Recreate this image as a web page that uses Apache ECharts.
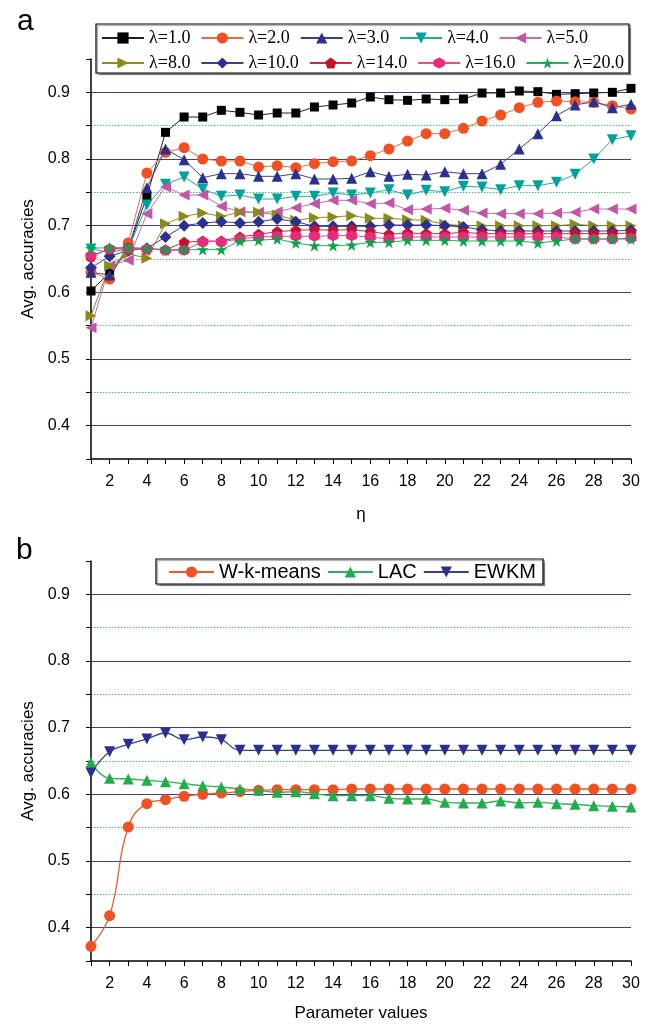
<!DOCTYPE html>
<html>
<head>
<meta charset="utf-8">
<script src="https://cdn.jsdelivr.net/npm/echarts@6/dist/echarts.min.js"></script>
<style>
  html, body { margin: 0; padding: 0; background: #ffffff; }
  #chart { width: 654px; height: 1027px; }
</style>
</head>
<body>
<div id="chart"></div>
<script>
// x positions shared by both panels (η in panel a, parameter value in panel b)
const paramValues = [1, 2, 3, 4, 5, 6, 7, 8, 9, 10, 11, 12, 13, 14, 15,
                     16, 17, 18, 19, 20, 21, 22, 23, 24, 25, 26, 27, 28, 29, 30];

// y-axis tick labels (solid grid lines sit on these)
const yTickLabels = ['0.4', '0.5', '0.6', '0.7', '0.8', '0.9'];

// Panel a: average accuracy for each λ as η varies
const lambdaNames = ['λ=1.0', 'λ=2.0', 'λ=3.0', 'λ=4.0', 'λ=5.0',
                     'λ=8.0', 'λ=10.0', 'λ=14.0', 'λ=16.0', 'λ=20.0'];
const lambda1  = [0.602, 0.630, 0.665, 0.744, 0.840, 0.863, 0.863, 0.873, 0.870, 0.866, 0.869, 0.869, 0.878, 0.881, 0.884,
                  0.893, 0.889, 0.888, 0.890, 0.889, 0.890, 0.899, 0.899, 0.902, 0.901, 0.897, 0.898, 0.899, 0.900, 0.906];
const lambda2  = [0.630, 0.620, 0.674, 0.779, 0.810, 0.817, 0.800, 0.797, 0.797, 0.788, 0.790, 0.787, 0.793, 0.796, 0.797,
                  0.805, 0.815, 0.827, 0.838, 0.838, 0.846, 0.857, 0.866, 0.877, 0.885, 0.887, 0.886, 0.885, 0.880, 0.875];
const lambda3  = [0.630, 0.626, 0.665, 0.757, 0.815, 0.799, 0.772, 0.778, 0.778, 0.774, 0.774, 0.778, 0.770, 0.770, 0.771,
                  0.781, 0.774, 0.777, 0.776, 0.781, 0.778, 0.778, 0.792, 0.815, 0.838, 0.865, 0.881, 0.886, 0.877, 0.882];
const lambda4  = [0.665, 0.660, 0.665, 0.731, 0.762, 0.773, 0.755, 0.744, 0.746, 0.740, 0.740, 0.744, 0.744, 0.749, 0.746,
                  0.749, 0.754, 0.746, 0.753, 0.751, 0.759, 0.758, 0.754, 0.760, 0.760, 0.765, 0.777, 0.800, 0.829, 0.835];
const lambda5  = [0.547, 0.640, 0.648, 0.718, 0.758, 0.746, 0.746, 0.729, 0.721, 0.720, 0.721, 0.727, 0.733, 0.738, 0.738,
                  0.733, 0.734, 0.724, 0.725, 0.726, 0.723, 0.719, 0.718, 0.718, 0.718, 0.719, 0.720, 0.725, 0.725, 0.725];
const lambda8  = [0.565, 0.640, 0.658, 0.651, 0.703, 0.714, 0.719, 0.714, 0.720, 0.720, 0.716, 0.708, 0.712, 0.713, 0.715,
                  0.711, 0.711, 0.709, 0.708, 0.702, 0.700, 0.700, 0.700, 0.700, 0.700, 0.700, 0.702, 0.700, 0.700, 0.700];
const lambda10 = [0.637, 0.654, 0.663, 0.666, 0.683, 0.700, 0.704, 0.706, 0.704, 0.706, 0.710, 0.706, 0.699, 0.699, 0.699,
                  0.699, 0.701, 0.701, 0.701, 0.700, 0.698, 0.694, 0.692, 0.692, 0.692, 0.692, 0.692, 0.692, 0.692, 0.693];
const lambda14 = [0.654, 0.665, 0.667, 0.665, 0.664, 0.675, 0.677, 0.677, 0.683, 0.687, 0.691, 0.693, 0.694, 0.693, 0.694,
                  0.691, 0.687, 0.689, 0.688, 0.688, 0.690, 0.688, 0.688, 0.688, 0.688, 0.688, 0.688, 0.688, 0.688, 0.689];
const lambda16 = [0.655, 0.665, 0.665, 0.665, 0.663, 0.663, 0.676, 0.676, 0.680, 0.683, 0.684, 0.684, 0.684, 0.685, 0.685,
                  0.683, 0.680, 0.683, 0.683, 0.683, 0.683, 0.683, 0.683, 0.683, 0.683, 0.683, 0.680, 0.680, 0.680, 0.681];
const lambda20 = [0.666, 0.667, 0.667, 0.666, 0.664, 0.664, 0.664, 0.664, 0.677, 0.678, 0.680, 0.674, 0.670, 0.670, 0.671,
                  0.675, 0.675, 0.678, 0.678, 0.678, 0.677, 0.677, 0.677, 0.677, 0.674, 0.677, 0.680, 0.680, 0.680, 0.680];

// Panel b: average accuracy of the three algorithms over their parameter values
const methodNames = ['W-k-means', 'LAC', 'EWKM'];
const wkmeans = [0.372, 0.418, 0.551, 0.586, 0.592, 0.597, 0.600, 0.602, 0.604, 0.606, 0.607, 0.607, 0.607, 0.607, 0.608,
                 0.608, 0.608, 0.608, 0.608, 0.608, 0.608, 0.608, 0.608, 0.608, 0.608, 0.608, 0.608, 0.608, 0.608, 0.608];
const lac     = [0.648, 0.624, 0.623, 0.621, 0.619, 0.616, 0.613, 0.611, 0.608, 0.606, 0.603, 0.604, 0.601, 0.598, 0.598,
                 0.598, 0.594, 0.593, 0.593, 0.588, 0.587, 0.587, 0.590, 0.587, 0.588, 0.586, 0.585, 0.583, 0.582, 0.581];
const ewkm    = [0.632, 0.664, 0.675, 0.683, 0.692, 0.682, 0.686, 0.682, 0.666, 0.666, 0.666, 0.666, 0.666, 0.666, 0.666,
                 0.666, 0.666, 0.666, 0.666, 0.666, 0.666, 0.666, 0.666, 0.666, 0.666, 0.666, 0.666, 0.666, 0.666, 0.666];

// ---- styling ----
const SANS = '"Liberation Sans", Arial, sans-serif';
const SERIF = '"Liberation Serif", "Times New Roman", serif';
const GRID_SOLID = '#3a3e98';
const GRID_DOT = '#45c46f';
const TRANSPARENT = 'rgba(0,0,0,0)';

const PENTAGON = 'path://M50,0 L97.6,34.5 L79.4,90.5 L20.6,90.5 L2.4,34.5 Z';
const STAR = 'path://M50,0 L61.2,34.5 L97.6,34.5 L68.2,55.9 L79.4,90.5 L50,69.1 L20.6,90.5 L31.8,55.9 L2.4,34.5 L38.8,34.5 Z';
const HEXAGON = 'path://M50,0 L93.3,25 L93.3,75 L50,100 L6.7,75 L6.7,25 Z';

const lambdaStyles = [
  { data: lambda1,  color: '#000000', line: '#222222', symbol: 'rect',     size: 9,  rotate: 0 },
  { data: lambda2,  color: '#f05022', line: '#f26a3e', symbol: 'circle',   size: 11, rotate: 0 },
  { data: lambda3,  color: '#2b3090', line: '#3a3e98', symbol: 'triangle', size: 11, rotate: 0 },
  { data: lambda4,  color: '#00a29a', line: '#22aaa2', symbol: 'triangle', size: 11, rotate: 180 },
  { data: lambda5,  color: '#c455a6', line: '#cc6bb2', symbol: 'triangle', size: 11, rotate: 90 },
  { data: lambda8,  color: '#8b8a17', line: '#8f8e25', symbol: 'triangle', size: 11, rotate: -90 },
  { data: lambda10, color: '#2b3090', line: '#3a3e98', symbol: 'diamond',  size: 12, rotate: 0 },
  { data: lambda14, color: '#c0142e', line: '#cc2a3e', symbol: PENTAGON,   size: 11, rotate: 0 },
  { data: lambda16, color: '#ec2a7c', line: '#ee4b8c', symbol: HEXAGON,    size: 11, rotate: 0 },
  { data: lambda20, color: '#0aa54a', line: '#22b05a', symbol: STAR,       size: 12, rotate: 0 }
];

const methodStyles = [
  { data: wkmeans, color: '#f05022', line: '#f05a2e', symbol: 'circle',   size: 11, rotate: 0 },
  { data: lac,     color: '#20ad4b', line: '#2db356', symbol: 'triangle', size: 11, rotate: 0 },
  { data: ewkm,    color: '#2b3090', line: '#3a3e98', symbol: 'triangle', size: 11, rotate: 180 }
];

// y ticks every 0.05 from 0.35 to 0.95; solid lines on the tenths, dotted on the odd twentieths
const yMin = 0.35, yMax = 0.95, yStep = 0.05;
const tickCount = Math.round((yMax - yMin) / yStep) + 1;
const solidColors = [], dotColors = [];
for (let i = 0; i < tickCount; i++) {
  solidColors.push(i % 2 === 1 ? GRID_SOLID : TRANSPARENT);
  dotColors.push(i % 2 === 0 && i > 0 && i < tickCount - 1 ? GRID_DOT : TRANSPARENT);
}

function yLabel(v) {
  const s = v.toFixed(1);
  return Math.abs(v - parseFloat(s)) < 1e-6 && yTickLabels.indexOf(s) >= 0 ? s : '';
}

function makeXAxis(gridIndex, name, nameGap) {
  return {
    type: 'value', gridIndex: gridIndex, min: 1, max: 30, interval: 1,
    name: name, nameLocation: 'middle', nameGap: nameGap,
    nameTextStyle: { fontFamily: SANS, fontSize: 17, color: '#000' },
    axisLine: { show: true, lineStyle: { color: '#000', width: 1.5 } },
    axisTick: { show: true, inside: false, length: 5, lineStyle: { color: '#000', width: 1 } },
    axisLabel: { fontFamily: SANS, fontSize: 16, color: '#000', margin: 15,
                 formatter: v => (v % 2 === 0 ? String(v) : '') },
    splitLine: { show: false }
  };
}

function makeYAxes(gridIndex) {
  return [
    {
      type: 'value', gridIndex: gridIndex, min: yMin, max: yMax, interval: yStep,
      name: 'Avg. accuracies', nameLocation: 'middle', nameGap: 52,
      nameTextStyle: { fontFamily: SANS, fontSize: 17, color: '#000' },
      axisLine: { show: true, lineStyle: { color: '#000', width: 1.5 } },
      axisTick: { show: true, inside: false, length: 5, lineStyle: { color: '#000', width: 1 } },
      axisLabel: { fontFamily: SANS, fontSize: 16, color: '#000', margin: 21, formatter: yLabel },
      splitLine: { show: true, lineStyle: { color: solidColors, width: 1, type: 'solid' } }
    },
    {
      type: 'value', gridIndex: gridIndex, min: yMin, max: yMax, interval: yStep, position: 'left',
      axisLine: { show: false }, axisTick: { show: false }, axisLabel: { show: false },
      splitLine: { show: true, lineStyle: { color: dotColors, width: 1, type: [1.5, 1.5] } }
    }
  ];
}

function makeSeries(name, st, axisIdx, smooth, lineWidth) {
  return {
    name: name, type: 'line',
    xAxisIndex: axisIdx, yAxisIndex: axisIdx * 2,
    data: paramValues.map((x, i) => [x, st.data[i]]),
    smooth: smooth,
    symbol: st.symbol, symbolSize: st.size, symbolRotate: st.rotate,
    showAllSymbol: true,
    lineStyle: { color: st.line, width: lineWidth },
    itemStyle: { color: st.color, borderWidth: 0 },
    emphasis: { disabled: true },
    animation: false
  };
}

const series = [];
lambdaNames.forEach((n, i) => series.push(makeSeries(n, lambdaStyles[i], 0, false, 1)));
methodNames.forEach((n, i) => series.push(makeSeries(n, methodStyles[i], 1, 0.45, 1.3)));

const legendCommon = {
  orient: 'horizontal', padding: 0, itemWidth: 42, itemHeight: 14, itemGap: 10,
  selectedMode: false,
  textStyle: { fontFamily: SERIF, fontSize: 18, color: '#000', padding: [0, 0, 0, 0] }
};

const option = {
  animation: false,
  backgroundColor: '#ffffff',
  title: [
    { text: 'a', left: 12, top: 2, textStyle: { fontFamily: SANS, fontSize: 30, fontWeight: 'normal', color: '#000' } },
    { text: 'b', left: 11, top: 531, textStyle: { fontFamily: SANS, fontSize: 30, fontWeight: 'normal', color: '#000' } }
  ],
  grid: [
    { left: 91, width: 540, top: 59, height: 400, containLabel: false },
    { left: 91, width: 540, top: 561, height: 400, containLabel: false }
  ],
  xAxis: [makeXAxis(0, 'η', 47), makeXAxis(1, 'Parameter values', 44)],
  yAxis: makeYAxes(0).concat(makeYAxes(1)),
  legend: [
    Object.assign({}, legendCommon, { data: lambdaNames.slice(0, 5), left: 101, top: 29 }),
    Object.assign({}, legendCommon, { data: lambdaNames.slice(5), left: 101, top: 54 }),
    Object.assign({}, legendCommon, {
      data: methodNames, left: 168, top: 562, itemWidth: 45, itemGap: 6,
      textStyle: { fontFamily: SANS, fontSize: 20, color: '#000' }
    })
  ],
  graphic: [
    { type: 'rect', z: 1, shape: { x: 96, y: 24, width: 533, height: 49 },
      style: { fill: '#ffffff', stroke: '#000', lineWidth: 1.2,
               shadowColor: 'rgba(0,0,0,0.35)', shadowOffsetX: 1.5, shadowOffsetY: 1.5, shadowBlur: 1 } },
    { type: 'rect', z: 1, shape: { x: 156, y: 559, width: 387, height: 25 },
      style: { fill: '#ffffff', stroke: '#000', lineWidth: 1.2,
               shadowColor: 'rgba(0,0,0,0.35)', shadowOffsetX: 1.5, shadowOffsetY: 1.5, shadowBlur: 1 } }
  ],
  series: series
};

const chart = echarts.init(document.getElementById('chart'), null, { renderer: 'canvas' });
chart.setOption(option);
</script>
</body>
</html>
